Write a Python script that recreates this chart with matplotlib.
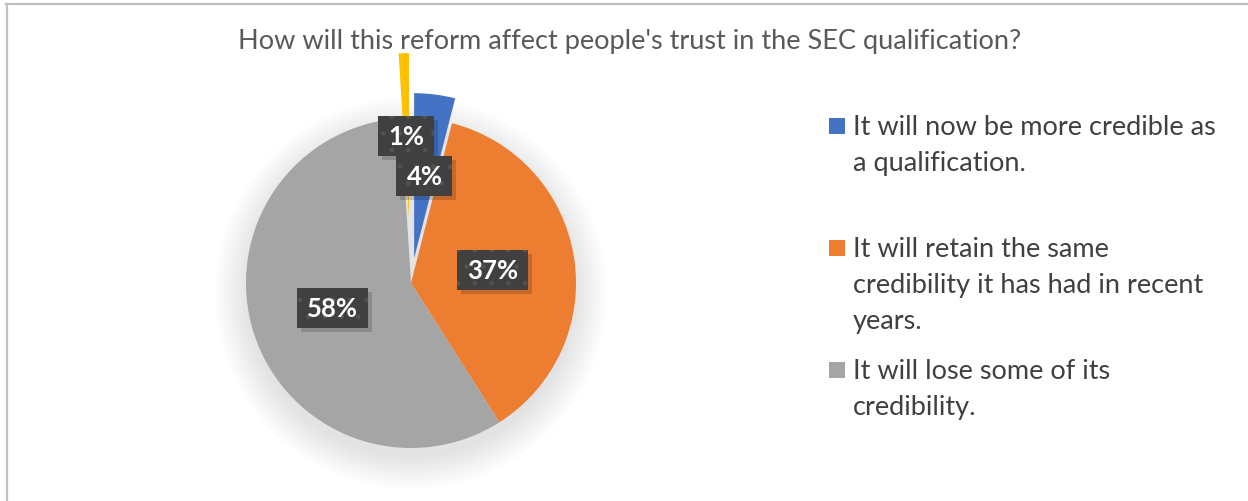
import matplotlib
matplotlib.use("Agg")
import matplotlib.pyplot as plt
from matplotlib.patches import Rectangle, Circle
from matplotlib.lines import Line2D

# ---- data -------------------------------------------------------------
title = "How will this reform affect people's trust in the SEC qualification?"
categories = [
    "It will now be more credible as\na qualification.",
    "It will retain the same\ncredibility it has had in recent\nyears.",
    "It will lose some of its\ncredibility.",
    "",
]
shares = [4, 37, 58, 1]
colors = ["#4472C4", "#ED7D31", "#A5A5A5", "#FFC000"]

# ---- layout (pixel coordinates, origin bottom-left) --------------------
W, H = 1248, 502
FONT = "Lato"
fig = plt.figure(figsize=(W / 100, H / 100), dpi=100)
ax = fig.add_axes([0, 0, 1, 1])
ax.set_xlim(0, W)
ax.set_ylim(0, H)

cx, cy, R = 411, H - 284, 165
explode = [25, 0, 0, 65]

# soft shadow under the pie
for k in range(14):
    ax.add_patch(Circle((cx, cy - 10), R + 2.4 * k, color="black",
                        alpha=0.008, lw=0, zorder=0))

wedges, texts, autotexts = ax.pie(
    shares, colors=colors, explode=explode, startangle=90,
    counterclock=False, radius=R, center=(cx, cy),
    autopct=lambda p: f"{p:.0f}%", pctdistance=0.5, frame=True,
    wedgeprops=dict(linewidth=0, zorder=2),
)
ax.set_xlim(0, W)
ax.set_ylim(0, H)
ax.set_aspect("equal")
ax.axis("off")

for t in autotexts:
    t.set(fontsize=18.5, fontweight="bold", family=FONT, color="white",
          ha="center", va="center", zorder=5)

# title
fig.text(630 / W, (H - 49) / H, title, ha="center", va="baseline",
         fontsize=19.5, family=FONT, color="#595959")

# legend (only the labelled categories)
for i, (lab, col) in enumerate(zip(categories, colors)):
    if not lab:
        continue
    base = 135 + 122 * i
    ax.add_patch(Rectangle((829, H - base), 16, 16, color=col, lw=0))
    for j, line in enumerate(lab.split("\n")):
        ax.text(853, H - (base + 36 * j), line, ha="left", va="baseline",
                fontsize=19.5, family=FONT, color="#404040")

# dark label boxes sized around each percentage text
fig.canvas.draw()
renderer = fig.canvas.get_renderer()
for t in autotexts:
    x, y = t.get_position()
    bw = t.get_window_extent(renderer).width + 20
    bh = 40
    ax.add_patch(Rectangle((x - bw / 2 + 4, y - bh / 2 - 4), bw, bh,
                           fc="black", alpha=0.16, lw=0, zorder=3))
    ax.add_patch(Rectangle((x - bw / 2, y - bh / 2), bw, bh, fc="#404040",
                           ec="#525252", lw=0, hatch=".", zorder=4))

# chart border
fig.add_artist(Line2D([6 / W, 1], [(H - 5) / H] * 2, color="#BFBFBF", lw=1.6))
fig.add_artist(Line2D([7 / W] * 2, [0, (H - 5) / H], color="#BFBFBF", lw=1.6))

fig.savefig("out.png", dpi=100)
